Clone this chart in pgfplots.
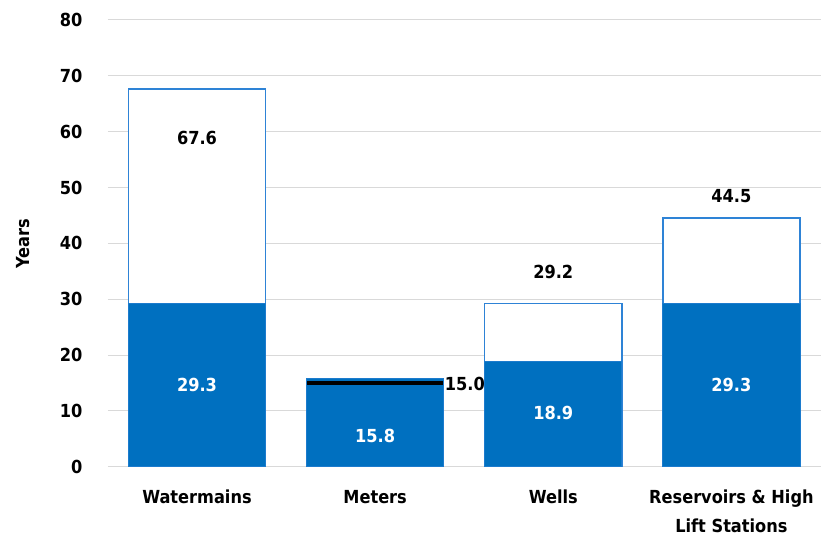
\documentclass[border=0pt]{standalone}
\usepackage{pgfplots}
\pgfplotsset{compat=1.18}
\usepackage{fontspec}
\setmainfont{DejaVu Sans Condensed}
\definecolor{fillblue}{RGB}{0,112,192}
\definecolor{edgeblue}{RGB}{46,131,214}
\definecolor{gridgray}{RGB}{217,217,217}
\newcommand{\lbl}{\fontsize{18}{29}\selectfont\bfseries}
\begin{document}
\begin{tikzpicture}
\begin{axis}[
  scale only axis,
  width=713pt, height=447pt,
  xmin=-0.5, xmax=3.5,
  ymin=0, ymax=80,
  ytick={0,10,...,80},
  xtick={0,1,2,3},
  xticklabels={Watermains,Meters,Wells,{Reservoirs \& High\\Lift Stations}},
  xticklabel style={align=center, font=\lbl, anchor=north, yshift=-20pt},
  yticklabel style={font=\lbl, xshift=-22pt},
  /pgf/number format/assume math mode=true,
  axis line style={draw=none},
  major tick length=0pt,
  ymajorgrids,
  grid style={gridgray, line width=1pt},
  ylabel={Years},
  every axis y label/.style={at={(axis description cs:0,0.5)}, rotate=90,
    anchor=south, yshift=75pt, font=\lbl},
  clip=false,
]
% expected service life (outlined bars)
\addplot[ybar, bar width=0.77, fill=white, draw=edgeblue, line width=1.5pt]
  coordinates {(0,67.6) (1,15.0) (2,29.2) (3,44.5)};
% average age (filled bars)
\addplot[ybar, bar width=0.77, fill=fillblue, draw=edgeblue!60!fillblue, line width=0.8pt]
  coordinates {(0,29.3) (1,15.8) (2,18.9) (3,29.3)};
% service life marker where it sits below the age
\addplot[black, line width=3.4pt] coordinates {(0.62,15.0) (1.38,15.0)};
% value labels
\begin{scope}[every node/.style={font=\lbl}]
\node[black] at (axis cs:0,58.9) {67.6};
\node[black, anchor=west, inner sep=1pt] at (axis cs:1.385,14.8) {15.0};
\node[black] at (axis cs:2,34.9) {29.2};
\node[black] at (axis cs:3,48.5) {44.5};
\node[white] at (axis cs:0,14.7) {29.3};
\node[white] at (axis cs:1,5.5) {15.8};
\node[white] at (axis cs:2,9.6) {18.9};
\node[white] at (axis cs:3,14.7) {29.3};
\end{scope}
% page margins around the plot area
\path (rel axis cs:0,0) ++(-108pt,-72pt);
\path (rel axis cs:1,1) ++(0pt,20pt);
\end{axis}
\end{tikzpicture}
\end{document}
